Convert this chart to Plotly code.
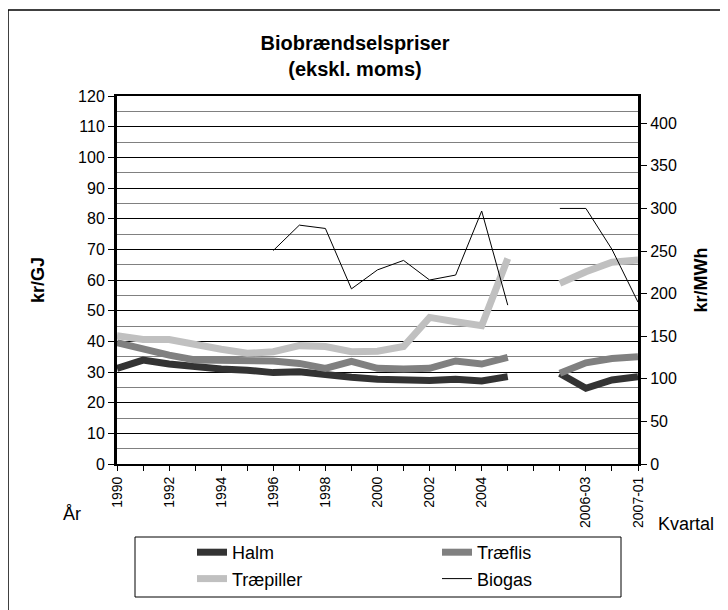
import plotly.graph_objects as go

categories = ["1990", "1991", "1992", "1993", "1994", "1995", "1996", "1997",
              "1998", "1999", "2000", "2001", "2002", "2003", "2004", "2005",
              " ", "2006-02", "2006-03", "2006-04", "2007-01"]
tick_labels = ["1990", "", "1992", "", "1994", "", "1996", "", "1998", "",
               "2000", "", "2002", "", "2004", "", "", "", "2006-03", "", "2007-01"]

halm = [31.2, 33.9, 32.6, 31.7, 31.0, 30.6, 29.8, 30.1, 29.0, 28.3,
        27.6, 27.4, 27.2, 27.6, 27.1, 28.5, None, 29.5, 24.7, 27.4, 28.5]
traeflis = [39.6, 37.4, 35.5, 33.9, 33.9, 34.1, 33.6, 32.8, 31.2, 33.5,
            31.2, 31.0, 31.2, 33.6, 32.6, 34.8, None, 29.6, 33.0, 34.4, 35.0]
traepiller = [41.8, 40.6, 40.6, 38.8, 37.4, 36.1, 36.6, 38.6, 38.3, 36.6,
              36.8, 38.3, 47.8, 46.4, 45.1, 67.0, None, 58.9, 62.7, 65.8, 66.5]
biogas_mwh = [None, None, None, None, None, None, 250.6, 280.4, 276.5, 205.6,
              227.9, 239.0, 216.0, 221.8, 297.0, 186.5, None, 300.0, 300.0, 252.0, 190.0]

FONT = "Liberation Sans, Arial, sans-serif"

fig = go.Figure()
fig.add_trace(go.Scatter(x=categories, y=halm, name="Halm", mode="lines",
                         line=dict(color="#333333", width=7)))
fig.add_trace(go.Scatter(x=categories, y=traeflis, name="Træflis", mode="lines",
                         line=dict(color="#808080", width=7)))
fig.add_trace(go.Scatter(x=categories, y=traepiller, name="Træpiller", mode="lines",
                         line=dict(color="#C0C0C0", width=7)))
fig.add_trace(go.Scatter(x=categories, y=biogas_mwh, name="Biogas", mode="lines",
                         line=dict(color="#000000", width=1), yaxis="y2"))

# page body has an 8px margin; figure is sized to fit the 728x610 window
OFF = 8
W, H = 728 - OFF, 610 - OFF
L, T = 117 - OFF, 96 - OFF
R = W - (638 - OFF)
B = H - (464 - OFF)
pw, ph = W - L - R, H - T - B

def px(xp):
    return (xp - OFF - L) / pw

def py(yp):
    return (H - B - (yp - OFF)) / ph

fig.update_layout(
    width=W, height=H,
    margin=dict(l=L, r=R, t=T, b=B, autoexpand=False),
    paper_bgcolor="white", plot_bgcolor="white",
    font=dict(family=FONT, size=16, color="black"),
    title=dict(text="<b>Biobrændselspriser</b><br><b>(ekskl. moms)</b>",
               x=px(355), xref="paper", xanchor="center",
               y=1 - 42 / H, yref="container", yanchor="top",
               font=dict(size=20, family=FONT)),
    showlegend=True,
    legend=dict(orientation="h", x=px(192), y=py(534), xanchor="left", yanchor="top",
                entrywidth=200, entrywidthmode="pixels",
                font=dict(size=18, family=FONT), bgcolor="rgba(0,0,0,0)",
                borderwidth=0, tracegroupgap=0),
    xaxis=dict(type="category", categoryorder="array", categoryarray=categories,
               range=[0, len(categories) - 1], automargin=False,
               tickmode="array", tickvals=categories, ticktext=tick_labels,
               tickangle=-90, tickfont=dict(size=14),
               ticks="outside", ticklen=5, tickcolor="black",
               showline=True, linecolor="black", linewidth=2, mirror=True,
               showgrid=False, zeroline=False),
    yaxis=dict(range=[0, 120], dtick=10, tick0=0, automargin=False,
               showgrid=True, gridcolor="#000000", gridwidth=1,
               minor=dict(dtick=5, showgrid=True, gridcolor="#808080", gridwidth=1),
               ticks="outside", ticklen=6, tickcolor="black",
               showline=True, linecolor="black", linewidth=3,
               zeroline=False, tickfont=dict(size=16),
               title=dict(text="<b>kr/GJ</b>", font=dict(size=18), standoff=29)),
    yaxis2=dict(range=[0, 432], dtick=50, tick0=0, overlaying="y", side="right",
                automargin=False,
                showgrid=False, ticks="outside", ticklen=6, tickcolor="black",
                showline=True, linecolor="black", linewidth=3,
                zeroline=False, tickfont=dict(size=16),
                title=dict(text="<b>kr/MWh</b>", font=dict(size=18), standoff=19)),
    shapes=[
        dict(type="rect", xref="paper", yref="paper",
             x0=px(135), x1=px(621), y0=py(597), y1=py(537),
             line=dict(color="black", width=1), fillcolor="rgba(0,0,0,0)"),
        dict(type="line", xref="paper", yref="paper",
             x0=px(8), x1=px(740), y0=py(10), y1=py(10),
             line=dict(color="black", width=1.5)),
        dict(type="line", xref="paper", yref="paper",
             x0=px(8), x1=px(8), y0=py(10), y1=py(620),
             line=dict(color="black", width=1.5)),
    ],
    annotations=[
        dict(text="År", x=px(72), y=py(514), xref="paper", yref="paper",
             xanchor="center", yanchor="middle",
             showarrow=False, font=dict(size=18)),
        dict(text="Kvartal", x=px(656), y=py(524), xref="paper", yref="paper",
             xanchor="left", yanchor="middle",
             showarrow=False, font=dict(size=18)),
    ],
)

fig.write_html("out.html")
